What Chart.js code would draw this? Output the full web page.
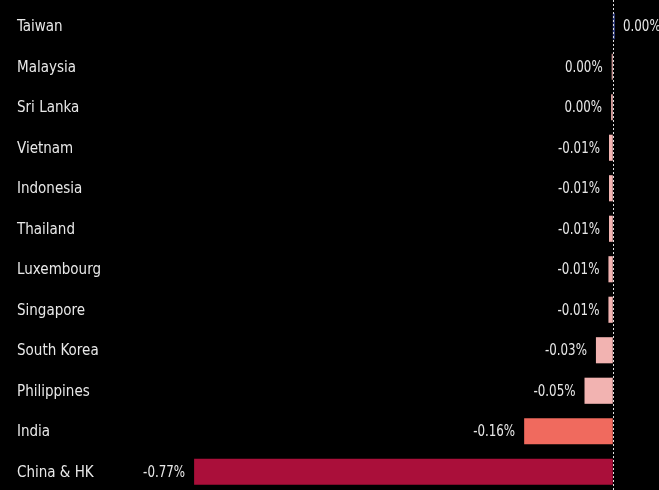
<!DOCTYPE html>
<html>
<head>
<meta charset="utf-8">
<script src="https://cdn.jsdelivr.net/npm/chart.js@4/dist/chart.umd.min.js"></script>
<style>
html,body{margin:0;padding:0;background:#000;overflow:hidden;}
#wrap{width:659px;height:490px;position:relative;overflow:hidden;}
</style>
</head>
<body>
<div id="wrap"><canvas id="c" width="659" height="492"></canvas></div>
<script>
const categories = ["Taiwan","Malaysia","Sri Lanka","Vietnam","Indonesia","Thailand","Luxembourg","Singapore","South Korea","Philippines","India","China & HK"];
const values = [0.004,-0.002,-0.003,-0.007,-0.007,-0.007,-0.008,-0.008,-0.031,-0.052,-0.163,-0.77];
const barColors = ["#2e3a78","#f2b3b1","#f2b3b1","#f2b3b1","#f2b3b1","#f2b3b1","#f2b3b1","#f2b3b1","#f2b3b1","#f2b3b1","#f06a5e","#aa0f3a"];

const LABEL_FONT = '15px "DejaVu Sans Condensed", "DejaVu Sans", sans-serif';
const VALUE_FONT = '15px "DejaVu Sans Condensed", "DejaVu Sans", sans-serif';
const TXT = '#e8e8e8';

function fmt(v){
  let s = v.toFixed(2);
  if (parseFloat(s) === 0) s = '0.00';
  return s + '%';
}

const overlay = {
  id: 'overlay',
  afterDatasetsDraw(chart){
    const ctx = chart.ctx;
    const xs = chart.scales.x, ys = chart.scales.y;
    const x0 = xs.getPixelForValue(0);
    ctx.save();
    ctx.strokeStyle = '#e0e0e0';
    ctx.lineWidth = 1;
    ctx.setLineDash([2,2]);
    ctx.beginPath();
    ctx.moveTo(Math.round(x0)+0.5, 0);
    ctx.lineTo(Math.round(x0)+0.5, chart.height);
    ctx.stroke();
    ctx.setLineDash([]);
    ctx.fillStyle = TXT;
    ctx.textBaseline = 'middle';
    categories.forEach((c,i)=>{
      const y = ys.getPixelForValue(i) + 1;
      ctx.font = LABEL_FONT;
      ctx.textAlign = 'left';
      ctx.fillText(c, 17, y);
      const v = values[i];
      const xv = xs.getPixelForValue(v);
      ctx.font = VALUE_FONT;
      const tx = v < 0 ? Math.min(xv, x0) - 9 : Math.max(xv, x0) + 8;
      ctx.save();
      ctx.translate(tx, y);
      ctx.scale(0.88, 1);
      ctx.textAlign = v < 0 ? 'right' : 'left';
      ctx.fillText(fmt(v), 0, 0);
      ctx.restore();
    });
    ctx.restore();
  }
};

new Chart(document.getElementById('c'), {
  type: 'bar',
  data: {
    labels: categories,
    datasets: [{
      data: values,
      backgroundColor: barColors,
      borderWidth: 0,
      barPercentage: 0.645,
      categoryPercentage: 1.0
    }]
  },
  options: {
    indexAxis: 'y',
    responsive: false,
    animation: false,
    layout: { padding: { top: 6, bottom: 0, left: 0, right: 0 } },
    plugins: { legend: { display: false }, tooltip: { enabled: false } },
    scales: {
      x: { display: false, min: -1.127, max: 0.085 },
      y: { display: false }
    }
  },
  plugins: [overlay]
});
</script>
</body>
</html>
